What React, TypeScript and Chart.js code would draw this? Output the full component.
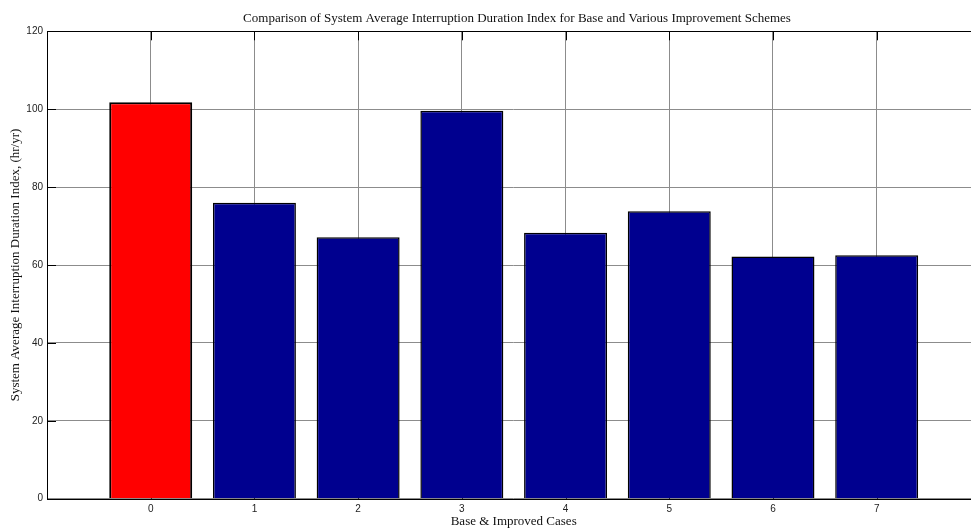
import { useEffect, useRef } from 'react';
import { Chart, registerables } from 'chart.js';

Chart.register(...registerables);

const TITLE = 'Comparison of System Average Interruption Duration Index for Base and Various Improvement Schemes';
const X_TITLE = 'Base & Improved Cases';
const Y_TITLE = 'System Average Interruption Duration Index, (hr/yr)';

const categories = ['0', '1', '2', '3', '4', '5', '6', '7'];
const saidiValues = [101.8, 76.0, 67.1, 99.6, 68.3, 73.8, 62.2, 62.5];
const barColors = ['#FF0000', '#00008F', '#00008F', '#00008F', '#00008F', '#00008F', '#00008F', '#00008F'];
const borderWidths = [2, 1.5, 1.5, 1.5, 1.5, 1.5, 1.5, 1.5];
const yTicks = [0, 20, 40, 60, 80, 100, 120];

// MATLAB-style axis runs from -1 to 8 : pad categories with empty slots
const labels = ['', ...categories, ''];
const paddedValues = [null, ...saidiValues, null];
const paddedColors = ['#ffffff', ...barColors, '#ffffff'];
const paddedBorders = [0, ...borderWidths, 0];

const CANVAS_W = 1035;
const CANVAS_H = 529;
const PLOT_LEFT = 47;
const PLOT_TOP = 31.3;
const PLOT_RIGHT = 980.4;
const PLOT_BOTTOM = 498.7;
const TICK_LEN = 9;
const TITLE_X = 517;
const TITLE_Y = 18.5;
const SERIF = '"Liberation Serif", "Times New Roman", serif';
const SANS = '"Liberation Sans", Arial, sans-serif';

const matlabFrame = {
  id: 'matlabFrame',
  beforeDatasetsDraw(chart: any) {
    const { ctx, chartArea: a, scales } = chart;
    ctx.save();
    ctx.strokeStyle = '#000';
    ctx.lineWidth = 1;
    ctx.beginPath();
    for (const v of yTicks) {
      const y = Math.round(scales.y.getPixelForValue(v)) + 0.5;
      ctx.moveTo(a.left, y);
      ctx.lineTo(a.left + TICK_LEN, y);
      ctx.moveTo(a.right, y);
      ctx.lineTo(a.right - TICK_LEN, y);
    }
    categories.forEach((_c, i) => {
      const x = Math.round(scales.x.getPixelForValue(i + 1)) + 0.5;
      ctx.moveTo(x, a.top);
      ctx.lineTo(x, a.top + TICK_LEN);
      ctx.moveTo(x, a.bottom);
      ctx.lineTo(x, a.bottom - TICK_LEN);
    });
    ctx.stroke();
    ctx.restore();
  },
  afterDatasetsDraw(chart: any) {
    const { ctx, chartArea: a } = chart;
    ctx.save();
    ctx.strokeStyle = '#000';
    ctx.lineWidth = 1;
    const l = Math.round(a.left) + 0.5;
    const t = Math.round(a.top) + 0.5;
    const r = Math.round(a.right) + 0.5;
    const b = Math.round(a.bottom) + 0.5;
    ctx.strokeRect(l, t, r - l, b - t);
    ctx.fillStyle = '#111';
    ctx.font = `13px ${SERIF}`;
    ctx.textAlign = 'center';
    ctx.textBaseline = 'middle';
    ctx.fillText(TITLE, TITLE_X, TITLE_Y);
    ctx.restore();
  },
};

export default function App() {
  const canvasRef = useRef<HTMLCanvasElement | null>(null);

  useEffect(() => {
    const canvas = canvasRef.current;
    if (!canvas) return;
    const chart = new Chart(canvas, {
      type: 'bar',
      data: {
        labels,
        datasets: [
          {
            data: paddedValues as any,
            backgroundColor: paddedColors,
            borderColor: '#000000',
            borderWidth: paddedBorders,
            barPercentage: 0.8,
            categoryPercentage: 1,
          },
        ],
      },
      plugins: [matlabFrame],
      options: {
        responsive: false,
        animation: false,
        devicePixelRatio: 1,
        layout: { padding: { left: 0, right: CANVAS_W - PLOT_RIGHT, top: PLOT_TOP, bottom: 0 } },
        plugins: {
          legend: { display: false },
          tooltip: { enabled: false },
          title: { display: false },
        },
        scales: {
          x: {
            type: 'category',
            offset: false,
            grid: { display: true, color: '#8c8c8c', lineWidth: 1, drawTicks: false, offset: false },
            border: { display: false },
            ticks: {
              autoSkip: false,
              maxRotation: 0,
              padding: 5,
              color: '#222',
              font: { family: SANS, size: 10 },
              callback: (_v: any, i: number) => labels[i],
            },
            title: {
              display: true,
              text: X_TITLE,
              color: '#111',
              font: { family: SERIF, size: 13, lineHeight: 1.2 },
              padding: 0,
            },
            afterFit: (scale: any) => {
              scale.height = CANVAS_H - PLOT_BOTTOM;
            },
          },
          y: {
            type: 'linear',
            min: 0,
            max: 120,
            grid: { display: true, color: '#8c8c8c', lineWidth: 1, drawTicks: false },
            border: { display: false },
            ticks: {
              stepSize: 20,
              padding: 4,
              color: '#222',
              font: { family: SANS, size: 10 },
            },
            title: {
              display: true,
              text: Y_TITLE,
              color: '#111',
              font: { family: SERIF, size: 13, lineHeight: 1.2 },
              padding: 8,
            },
            afterFit: (scale: any) => {
              scale.width = PLOT_LEFT;
            },
          },
        },
      },
    });
    return () => chart.destroy();
  }, []);

  return (
    <div style={{ position: 'fixed', left: 0, top: 0, width: 971, height: 529, overflow: 'hidden', background: '#fff' }}>
      <canvas ref={canvasRef} width={CANVAS_W} height={CANVAS_H} style={{ display: 'block' }} />
    </div>
  );
}
